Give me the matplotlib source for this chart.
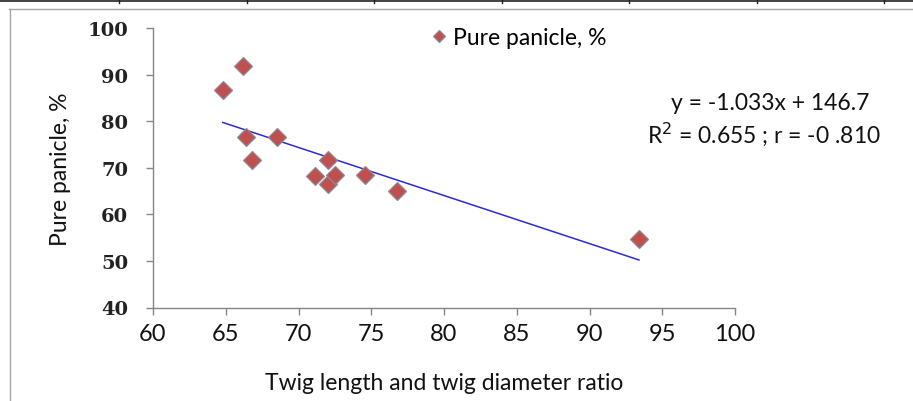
import matplotlib
matplotlib.use("Agg")
import matplotlib.pyplot as plt
from matplotlib.lines import Line2D
import numpy as np

# ---- data ----
ratio = [64.8, 66.2, 66.4, 66.8, 68.5, 71.1, 72.0, 72.0, 72.5, 74.6, 76.8, 93.4]
pure_panicle = [86.7, 91.8, 76.6, 71.7, 76.6, 68.3, 71.7, 66.5, 68.4, 68.4, 65.0, 54.8]
slope, intercept = -1.033, 146.7
x_ticks = [60, 65, 70, 75, 80, 85, 90, 95, 100]
y_ticks = [40, 50, 60, 70, 80, 90, 100]
series_label = "Pure panicle, %"
x_title = "Twig length and twig diameter ratio"
y_title = "Pure panicle, %"
eq_line1 = "y = -1.033x + 146.7"
eq_line2 = "R$^2$ = 0.655 ; r = -0 .810"

W, H = 913, 402
fig = plt.figure(figsize=(W / 100, H / 100), dpi=100)
fig.patch.set_facecolor("white")

# outer frame / table lines
fig.add_artist(Line2D([0, 1], [1 - 1.5 / H, 1 - 1.5 / H], color="#222222", lw=1.2))
for xd in [119, 247, 374, 502, 629, 757, 884]:
    fig.add_artist(Line2D([xd / W, xd / W], [1 - 4 / H, 1], color="#222222", lw=1.0))
fig.add_artist(Line2D([9 / W, 1], [1 - 9.5 / H, 1 - 9.5 / H], color="#A6A6A6", lw=1.0))
fig.add_artist(Line2D([9.5 / W, 9.5 / W], [0, 1 - 9.5 / H], color="#A6A6A6", lw=1.0))

left, right = 153 / W, 735 / W
top, bottom = 1 - 29.3 / H, 1 - 308.5 / H
ax = fig.add_axes([left, bottom, right - left, top - bottom])
ax.set_xlim(60, 100)
ax.set_ylim(40, 100)

for s in ["top", "right"]:
    ax.spines[s].set_visible(False)
for s in ["left", "bottom"]:
    ax.spines[s].set_color("#868686")
    ax.spines[s].set_linewidth(1.0)

ax.set_xticks(x_ticks)
ax.set_yticks(y_ticks)
ax.tick_params(axis="both", colors="#868686", length=5, width=1, direction="out")
ax.tick_params(axis="x", pad=6)
ax.tick_params(axis="y", pad=13)
for lab in ax.get_yticklabels():
    lab.set_fontfamily("DejaVu Serif")
    lab.set_fontweight("bold")
    lab.set_fontsize(14)
    lab.set_color("#222222")
for lab in ax.get_xticklabels():
    lab.set_fontfamily("Lato")
    lab.set_fontsize(17)
    lab.set_color("#111111")

# trend line
xs = np.array([min(ratio), max(ratio)])
ax.plot(xs, slope * xs + intercept, color="#2A2AD8", lw=1.1, zorder=2)

# points
ax.plot(ratio, pure_panicle, linestyle="none", marker="D", markersize=9,
        markerfacecolor="#C0504D", markeredgecolor="#8E8A9A", markeredgewidth=0.9,
        label=series_label, zorder=3)

leg = ax.legend(loc="upper left", bbox_to_anchor=(0.445, 1.08), frameon=False,
                handlelength=0.6, handletextpad=0.3, markerscale=0.65,
                prop={"family": "Lato", "size": 16.5})

ax.set_xlabel(x_title, fontfamily="Lato", fontsize=16.5, color="#111111", labelpad=20)
ax.set_ylabel(y_title, fontfamily="Lato", fontsize=16.5, color="#111111", labelpad=12)

fig.text(770 / W, 1 - 104 / H, eq_line1, ha="center", va="center",
         fontfamily="Lato", fontsize=16.5, color="#111111")
fig.text(764 / W, 1 - 134 / H, eq_line2, ha="center", va="center",
         fontfamily="Lato", fontsize=16.5, color="#111111")

fig.savefig("out.png", dpi=100)
